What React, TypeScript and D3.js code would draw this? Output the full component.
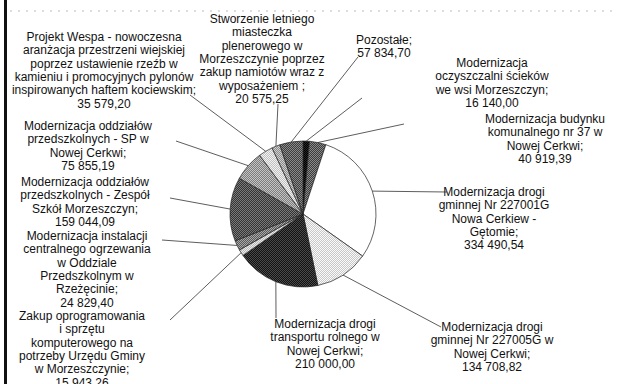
import React from 'react';
import * as d3 from 'd3';

// slices, clockwise from 12 o'clock
const names = [
  'Modernizacja oczyszczalni ścieków we wsi Morzeszczyn',
  'Modernizacja budynku komunalnego nr 37 w Nowej Cerkwi',
  'Modernizacja drogi gminnej Nr 227001G Nowa Cerkiew - Gętomie',
  'Modernizacja drogi gminnej Nr 227005G w Nowej Cerkwi',
  'Modernizacja drogi transportu rolnego w Nowej Cerkwi',
  'Zakup oprogramowania i sprzętu komputerowego',
  'Modernizacja instalacji centralnego ogrzewania',
  'Modernizacja oddziałów przedszkolnych - Zespół Szkół Morzeszczyn',
  'Modernizacja oddziałów przedszkolnych - SP w Nowej Cerkwi',
  'Projekt Wespa',
  'Stworzenie letniego miasteczka plenerowego',
  'Pozostałe',
];
const values = [
  16140.0, 40919.39, 334490.54, 134708.82, 210000.0, 15943.26,
  24829.4, 159044.09, 75855.19, 35579.2, 20575.25, 57834.7,
];
const labelLines = [
  ['Modernizacja', 'oczyszczalni  ścieków', 'we wsi Morzeszczyn;', '16 140,00'],
  ['Modernizacja budynku', 'komunalnego nr 37 w', 'Nowej Cerkwi;', '40 919,39'],
  ['Modernizacja drogi', 'gminnej Nr 227001G', 'Nowa Cerkiew -', 'Gętomie;', '334 490,54'],
  ['Modernizacja drogi', 'gminnej Nr 227005G w', 'Nowej Cerkwi;', '134 708,82'],
  ['Modernizacja drogi', 'transportu rolnego w', 'Nowej Cerkwi;', '210 000,00'],
  ['Zakup oprogramowania', 'i sprzętu', 'komputerowego na', 'potrzeby Urzędu Gminy', 'w Morzeszczynie;', '15 943,26'],
  ['Modernizacja instalacji', 'centralnego ogrzewania', 'w Oddziale', 'Przedszkolnym w', 'Rzeżęcinie;', '24 829,40'],
  ['Modernizacja oddziałów', 'przedszkolnych - Zespół', 'Szkół Morzeszczyn;', '159 044,09'],
  ['Modernizacja oddziałów', 'przedszkolnych - SP w', 'Nowej Cerkwi;', '75 855,19'],
  ['Projekt Wespa - nowoczesna', 'aranżacja przestrzeni wiejskiej', 'poprzez ustawienie rzeźb w', 'kamieniu i promocyjnych pylonów', 'inspirowanych haftem kociewskim;', '35 579,20'],
  ['Stworzenie letniego', 'miasteczka', 'plenerowego w', 'Morzeszczynie poprzez', 'zakup namiotów wraz z', 'wyposażeniem ;', '20 575,25'],
  ['Pozostałe;', '57 834,70'],
];

// scanned print patterns: [base, dot] greys for a 2x2 dither
const shades = [
  ['#000', '#222'], ['#8a8a8a', '#3c3c3c'], ['#fff', '#fff'], ['#fafafa', '#c8c8c8'],
  ['#4a4a4a', '#121212'], ['#eaeaea', '#b8b8b8'], ['#a8a8a8', '#5a5a5a'], ['#7a7a7a', '#333'],
  ['#c4c4c4', '#7c7c7c'], ['#f2f2f2', '#c0c0c0'], ['#d0d0d0', '#8a8a8a'], ['#8a8a8a', '#3e3e3e'],
];

// label block: centre x, first baseline, leader anchor
const layout = [
  { x: 492, y: 67, ax: 362, ay: 98 },
  { x: 545, y: 123, ax: 404, ay: 124 },
  { x: 494, y: 196, ax: 447, ay: 192 },
  { x: 492, y: 331, ax: 441, ay: 327 },
  { x: 325, y: 328, ax: 276, ay: 318 },
  { x: 82, y: 320, ax: 170, ay: 320 },
  { x: 87, y: 240, ax: 162, ay: 240 },
  { x: 85, y: 186, ax: 170, ay: 198 },
  { x: 88, y: 130, ax: 176, ay: 141 },
  { x: 104, y: 41, ax: 190, ay: 95 },
  { x: 262, y: 23, ax: 278, ay: 104 },
  { x: 384, y: 44, ax: 358, ay: 57 },
];

const W = 623;
const H = 384;
const cx = 303;
const cy = 214;
const r = 73;
const lh = 13.3;

export default function App() {
  const pie = d3.pie<number>().sort(null).value((d) => d)(values);
  const arc = d3.arc<d3.PieArcDatum<number>>().innerRadius(0).outerRadius(r);
  const edge = d3.arc<d3.PieArcDatum<number>>().innerRadius(r).outerRadius(r);

  return (
    <svg width={W} height={H} style={{ position: 'absolute', left: 0, top: 0, background: '#fff' }}
      fontFamily="'Liberation Sans', Arial, sans-serif" fontSize={12}>
      <defs>
        {shades.map(([a, b], i) => (
          <pattern key={i} id={'p' + i} width={2} height={2} patternUnits="userSpaceOnUse">
            <rect width={2} height={2} fill={a} />
            <rect x={0} y={0} width={1} height={1} fill={b} />
            <rect x={1} y={1} width={1} height={1} fill={b} />
          </pattern>
        ))}
      </defs>
      <rect x={4} y={0} width={3} height={H} fill="#111" />
      <line x1={10} x2={W - 10} y1={11} y2={11} stroke="#aaa" strokeDasharray="2 6" strokeWidth={0.8} />

      <g transform={`translate(${cx},${cy})`}>
        {pie.map((d, i) => (
          <path key={i} d={arc(d) || ''} fill={`url(#p${i})`} stroke="#222" strokeWidth={0.7} />
        ))}
      </g>

      {pie.map((d, i) => {
        const [px, py] = edge.centroid(d);
        const l = layout[i];
        return (
          <line key={'l' + i} x1={cx + px} y1={cy + py} x2={l.ax} y2={l.ay} stroke="#333" strokeWidth={0.8} />
        );
      })}

      {labelLines.map((lines, i) => (
        <text key={'t' + i} x={layout[i].x} y={layout[i].y} textAnchor="middle" fill="#111">
          {lines.map((s, j) => (
            <tspan key={j} x={layout[i].x} y={layout[i].y + j * lh}>{s}</tspan>
          ))}
        </text>
      ))}
    </svg>
  );
}
